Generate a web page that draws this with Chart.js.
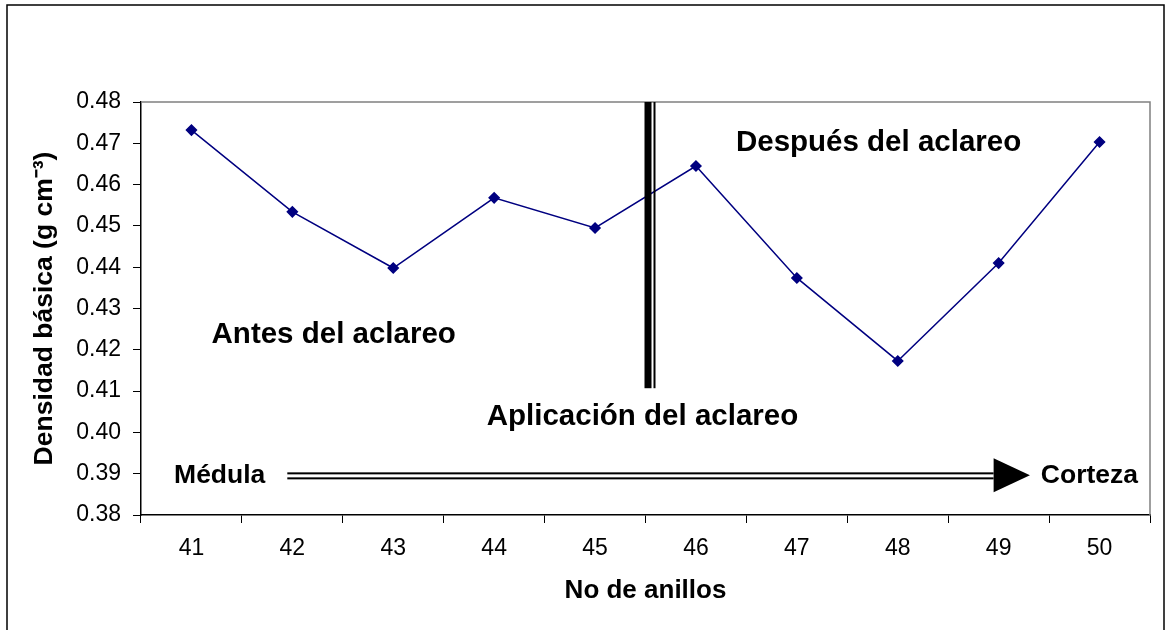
<!DOCTYPE html>
<html>
<head>
<meta charset="utf-8">
<script src="https://cdn.jsdelivr.net/npm/chart.js@4"></script>
<style>
  html, body { margin: 0; padding: 0; background: #fff; }
  #wrap { width: 1165px; height: 630px; }
</style>
</head>
<body>
<div id="wrap"><canvas id="grafico"></canvas></div>
<script>
// datos
const anillos = ['41', '42', '43', '44', '45', '46', '47', '48', '49', '50'];
const densidad = [0.4732, 0.4534, 0.4398, 0.4568, 0.4495, 0.4645, 0.4374, 0.4173, 0.4410, 0.4703];
const yMin = 0.38;
const yMax = 0.48;
const yPaso = 0.01;

const FUENTE = '"Liberation Sans", Arial, sans-serif';

// textos, lineas y flecha del grafico original
const decoracion = {
  id: 'decoracion',
  afterDraw(chart) {
    const ctx = chart.ctx;
    const x = chart.scales.x;
    const y = chart.scales.y;
    const area = chart.chartArea;

    ctx.save();
    // marco exterior
    ctx.strokeStyle = '#000';
    ctx.lineWidth = 1.5;
    ctx.strokeRect(7, 5, 1157, 640);

    // borde gris del area de trazado
    ctx.strokeStyle = '#808080';
    ctx.lineWidth = 1.5;
    ctx.beginPath();
    ctx.moveTo(area.left, area.top);
    ctx.lineTo(area.right, area.top);
    ctx.lineTo(area.right, area.bottom);
    ctx.stroke();

    // linea de aplicacion del aclareo (entre 45 y 46)
    const xa = x.getPixelForValue(4.5);
    const yTop = y.getPixelForValue(yMax);
    const yBot = y.getPixelForValue(0.4107);
    ctx.fillStyle = '#000';
    ctx.fillRect(xa - 1, yTop, 7, yBot - yTop);
    ctx.fillRect(xa + 8, yTop, 2, yBot - yTop);

    // flecha medula -> corteza
    const yf = y.getPixelForValue(0.3896);
    const x0 = x.getPixelForValue(0.95);
    const xb = x.getPixelForValue(7.95);
    const xt = x.getPixelForValue(8.31);
    ctx.fillRect(x0, yf - 3, xb - x0, 2);
    ctx.fillRect(x0, yf + 2, xb - x0, 2);
    ctx.beginPath();
    ctx.moveTo(xb, yf - 17);
    ctx.lineTo(xt, yf);
    ctx.lineTo(xb, yf + 17);
    ctx.closePath();
    ctx.fill();

    // textos
    ctx.fillStyle = '#000';
    ctx.textAlign = 'center';
    ctx.textBaseline = 'middle';
    ctx.font = 'bold 29.5px ' + FUENTE;
    ctx.fillText('Después del aclareo', x.getPixelForValue(6.81), y.getPixelForValue(0.4701));
    ctx.fillText('Antes del aclareo', x.getPixelForValue(1.41), y.getPixelForValue(0.4236));
    ctx.fillText('Aplicación del aclareo', x.getPixelForValue(4.47), y.getPixelForValue(0.4037));
    ctx.font = 'bold 26.5px ' + FUENTE;
    ctx.fillText('Médula', x.getPixelForValue(0.28), y.getPixelForValue(0.3896));
    ctx.fillText('Corteza', x.getPixelForValue(8.9), y.getPixelForValue(0.3896));
    ctx.restore();
  }
};

const ctx = document.getElementById('grafico').getContext('2d');
window.grafico = new Chart(ctx, {
  type: 'line',
  data: {
    labels: anillos,
    datasets: [
      {
        label: 'Densidad básica',
        data: densidad,
        borderColor: '#000080',
        backgroundColor: '#000080',
        borderWidth: 1.5,
        pointStyle: 'rectRot',
        pointRadius: 5,
        pointHoverRadius: 5,
        tension: 0,
      },
    ],
  },
  options: {
    responsive: true,
    maintainAspectRatio: false,
    animation: false,
    events: [],
    layout: {
      padding: { left: 25, right: 15, top: 102, bottom: 20 },
    },
    plugins: {
      legend: { display: false },
      tooltip: { enabled: false },
    },
    scales: {
      x: {
        type: 'category',
        offset: true,
        grid: {
          offset: true,
          drawOnChartArea: false,
          drawTicks: true,
          tickLength: 8,
          color: '#000',
        },
        border: { display: true, color: '#000', width: 1.5 },
        ticks: {
          color: '#000',
          padding: 12,
          maxRotation: 0,
          font: { family: FUENTE, size: 23 },
        },
        title: {
          display: true,
          text: 'No de anillos',
          color: '#000',
          font: { family: FUENTE, size: 26, weight: 'bold' },
        },
        afterFit(scale) { scale.height = 95; },
      },
      y: {
        min: yMin,
        max: yMax,
        grid: {
          drawOnChartArea: false,
          drawTicks: true,
          tickLength: 8,
          color: '#000',
        },
        border: { display: true, color: '#000', width: 1.5 },
        ticks: {
          stepSize: yPaso,
          color: '#000',
          padding: 12,
          font: { family: FUENTE, size: 23 },
          callback: function (v) { return v.toFixed(2); },
        },
        title: {
          display: true,
          text: 'Densidad básica (g cm⁻³)',
          color: '#000',
          font: { family: FUENTE, size: 26.5, weight: 'bold' },
        },
        afterFit(scale) { scale.width = 116; },
      },
    },
  },
  plugins: [decoracion],
});
</script>
</body>
</html>
